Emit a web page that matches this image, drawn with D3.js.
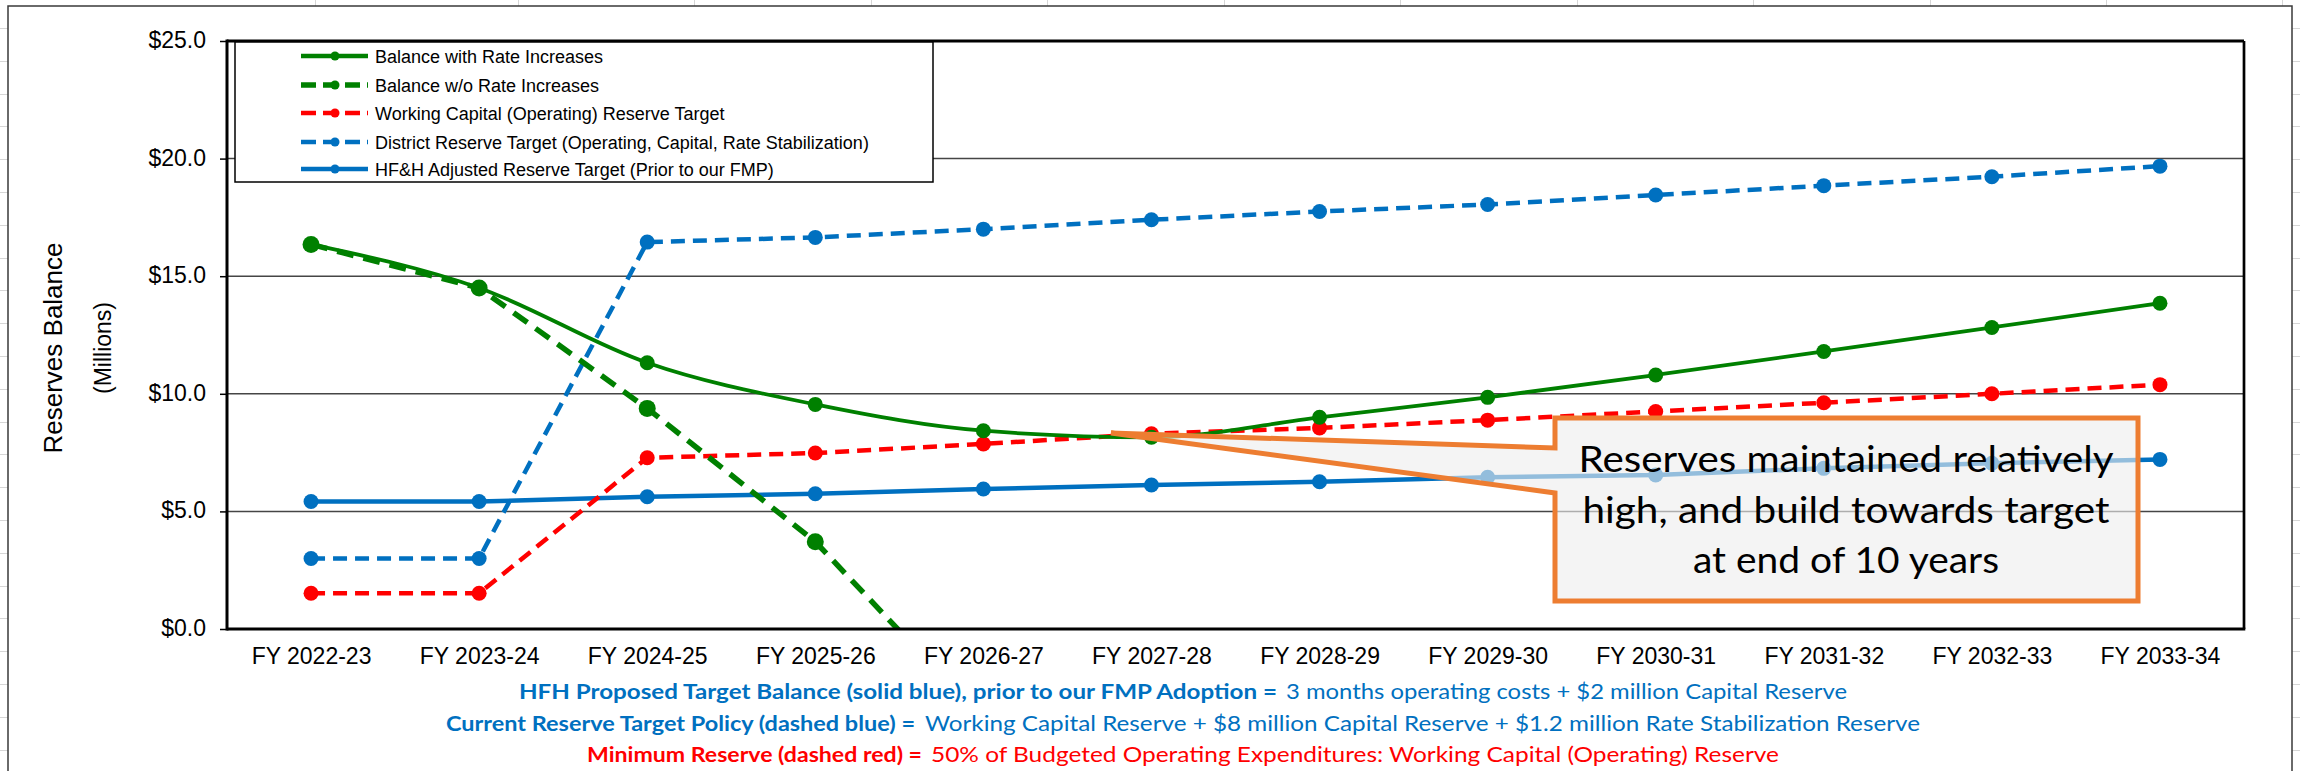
<!DOCTYPE html>
<html>
<head>
<meta charset="utf-8">
<script src="https://cdn.jsdelivr.net/npm/d3@7"></script>
<style>
  html, body { margin: 0; padding: 0; background: #ffffff; }
  svg { display: block; }
</style>
</head>
<body>
<svg id="chart" width="2300" height="771"></svg>
<script>
// ---------------- DATA ----------------
const years = ["FY 2022-23","FY 2023-24","FY 2024-25","FY 2025-26","FY 2026-27","FY 2027-28",
               "FY 2028-29","FY 2029-30","FY 2030-31","FY 2031-32","FY 2032-33","FY 2033-34"];
const balanceWithRates    = [16.35, 14.5, 11.32, 9.55, 8.43, 8.15, 9.0, 9.85, 10.8, 11.8, 12.82, 13.85];
const balanceWithoutRates = [16.35, 14.5, 9.38, 3.71, -3.86, null, null, null, null, null, null, null];
const workingCapitalTarget = [1.52, 1.52, 7.28, 7.48, 7.87, 8.3, 8.55, 8.88, 9.25, 9.62, 10.0, 10.39];
const districtReserveTarget = [3.0, 3.0, 16.45, 16.65, 17.0, 17.4, 17.75, 18.05, 18.45, 18.85, 19.23, 19.68];
const hfhAdjustedTarget   = [5.42, 5.42, 5.62, 5.75, 5.95, 6.12, 6.26, 6.45, 6.55, 6.83, 7.05, 7.21];
const yTicks = [0, 5, 10, 15, 20, 25];
const legendLabels = ["Balance with Rate Increases","Balance w/o Rate Increases",
  "Working Capital (Operating) Reserve Target",
  "District Reserve Target (Operating, Capital, Rate Stabilization)",
  "HF&H Adjusted Reserve Target (Prior to our FMP)"];
const yTitle = "Reserves Balance";
const ySubTitle = "(Millions)";
const calloutLines = ["Reserves maintained relatively","high, and build towards target","at end of 10 years"];
const noteBold = ["HFH Proposed Target Balance (solid blue), prior to our FMP Adoption =",
                  "Current Reserve Target Policy (dashed blue) =",
                  "Minimum Reserve (dashed red) ="];
const noteNormal = ["3 months operating costs + $2 million Capital Reserve",
                    "Working Capital Reserve + $8 million Capital Reserve + $1.2 million Rate Stabilization Reserve",
                    "50% of Budgeted Operating Expenditures: Working Capital (Operating) Reserve"];

// ---------------- SETUP ----------------
const svg = d3.select("#chart");
const W = 2300, H = 771;
const PL = 227, PR = 2244, PT = 41, PB = 629;
const ARIAL = "'Liberation Sans', Arial, sans-serif";
const CAL = "Lato, 'Open Sans', sans-serif";
const GREEN = "#008000", RED = "#FF0000", BLUE = "#0070C0", ORANGE = "#ED7D31";

const x = d3.scalePoint().domain(years).range([PL, PR]).padding(0.5);
const y = d3.scaleLinear().domain([0, 25]).range([PB, PT]);

// Background spreadsheet cell grid (peeking around the chart frame)
const bg = svg.append("g").attr("stroke", "#d6d6d6").attr("stroke-width", 1);
[315, 518, 694, 871, 1047, 1224, 1400, 1577, 1753, 1930, 2106, 2282].forEach(cx => {
  bg.append("line").attr("x1", cx + 0.5).attr("x2", cx + 0.5).attr("y1", 0).attr("y2", 6);
});
for (let ry = 28; ry < H; ry += 32.8) {
  bg.append("line").attr("x1", 0).attr("x2", 8).attr("y1", Math.round(ry) + 0.5).attr("y2", Math.round(ry) + 0.5);
  bg.append("line").attr("x1", 2292).attr("x2", 2300).attr("y1", Math.round(ry) + 0.5).attr("y2", Math.round(ry) + 0.5);
}

// Outer chart frame
svg.append("path")
  .attr("d", `M8,${H + 2} L8,6 L2292,6 L2292,${H + 2}`)
  .attr("fill", "#ffffff").attr("stroke", "#3a3a3a").attr("stroke-width", 1.5);

// Gridlines
svg.append("g").selectAll("line").data(yTicks.filter(t => t > 0 && t < 25)).join("line")
  .attr("x1", PL).attr("x2", PR)
  .attr("y1", d => y(d)).attr("y2", d => y(d))
  .attr("stroke", "#454545").attr("stroke-width", 1.5);

// Y axis
const yAxis = svg.append("g").attr("transform", `translate(${PL},0)`)
  .call(d3.axisLeft(y).tickValues(yTicks).tickSize(7).tickPadding(14)
        .tickFormat(d => "$" + d.toFixed(1)));
yAxis.select(".domain").remove();
yAxis.selectAll(".tick line").attr("stroke", "#000").attr("stroke-width", 1.5);
yAxis.selectAll("text").attr("font-family", ARIAL).attr("font-size", 23).attr("fill", "#000")
  .attr("dy", "0.28em");

// X axis
const xAxis = svg.append("g").attr("transform", `translate(0,${PB})`)
  .call(d3.axisBottom(x).tickSize(0).tickPadding(19));
xAxis.select(".domain").remove();
xAxis.selectAll("text").attr("font-family", ARIAL).attr("font-size", 23).attr("fill", "#000");

// Axis titles
svg.append("text").attr("transform", `translate(62,348) rotate(-90)`)
  .attr("text-anchor", "middle").attr("font-family", ARIAL).attr("font-size", 26).attr("fill", "#000")
  .text(yTitle);
svg.append("text").attr("transform", `translate(111,348) rotate(-90)`)
  .attr("text-anchor", "middle").attr("font-family", ARIAL).attr("font-size", 23).attr("fill", "#000")
  .text(ySubTitle);

// Clip for the plot area
svg.append("defs").append("clipPath").attr("id", "plotclip")
  .append("rect").attr("x", PL).attr("y", PT).attr("width", PR - PL).attr("height", PB - PT);

const series = [
  { name: legendLabels[4], values: hfhAdjustedTarget, color: BLUE, width: 4.5, dash: null, curve: d3.curveLinear, r: 7.5 },
  { name: legendLabels[3], values: districtReserveTarget, color: BLUE, width: 4.5, dash: "14,8", curve: d3.curveLinear, r: 7.5 },
  { name: legendLabels[2], values: workingCapitalTarget, color: RED, width: 4.5, dash: "14,8", curve: d3.curveLinear, r: 7.5 },
  { name: legendLabels[1], values: balanceWithoutRates, color: GREEN, width: 5.5, dash: "17,10", curve: d3.curveLinear, r: 8.5 },
  { name: legendLabels[0], values: balanceWithRates, color: GREEN, width: 3.8, dash: null, curve: d3.curveMonotoneX, r: 7.5 }
];

const plotG = svg.append("g").attr("clip-path", "url(#plotclip)");
series.forEach(s => {
  const pts = years.map((yr, i) => ({ yr, v: s.values[i] })).filter(p => p.v !== null);
  const line = d3.line().x(p => x(p.yr)).y(p => y(p.v)).curve(s.curve);
  plotG.append("path").datum(pts).attr("d", line)
    .attr("fill", "none").attr("stroke", s.color).attr("stroke-width", s.width)
    .attr("stroke-dasharray", s.dash).attr("stroke-linejoin", "round");
  plotG.append("g").selectAll("circle").data(pts).join("circle")
    .attr("cx", p => x(p.yr)).attr("cy", p => y(p.v)).attr("r", s.r)
    .attr("fill", s.color);
});

// Plot border / axes lines
svg.append("line").attr("x1", PL).attr("x2", PR).attr("y1", PT).attr("y2", PT).attr("stroke", "#000").attr("stroke-width", 3);
svg.append("line").attr("x1", PR).attr("x2", PR).attr("y1", PT).attr("y2", PB).attr("stroke", "#000").attr("stroke-width", 2.7);
svg.append("line").attr("x1", PL).attr("x2", PL).attr("y1", PT - 1.5).attr("y2", PB + 1.5).attr("stroke", "#000").attr("stroke-width", 3);
svg.append("line").attr("x1", PL).attr("x2", PR + 1.3).attr("y1", PB).attr("y2", PB).attr("stroke", "#000").attr("stroke-width", 3.2);

// Legend
const lg = svg.append("g");
lg.append("rect").attr("x", 235).attr("y", 42).attr("width", 698).attr("height", 140)
  .attr("fill", "#fff").attr("stroke", "#000").attr("stroke-width", 1.5);
const legendOrder = [4, 3, 2, 1, 0]; // index into series array (legend top to bottom)
const legendY = [56, 85, 113, 142, 169];
legendOrder.forEach((si, k) => {
  const s = series[si];
  const cy = legendY[k];
  lg.append("line").attr("x1", 301).attr("x2", 368).attr("y1", cy).attr("y2", cy)
    .attr("stroke", s.color).attr("stroke-width", Math.max(s.width, 4.5))
    .attr("stroke-dasharray", s.dash ? "15,7" : null);
  lg.append("circle").attr("cx", 335).attr("cy", cy).attr("r", 4.5).attr("fill", s.color);
  lg.append("text").attr("x", 375).attr("y", cy + 6.5)
    .attr("font-family", ARIAL).attr("font-size", 18).attr("fill", "#000").text(s.name);
});

// Callout
const callout = svg.append("g");
callout.append("path")
  .attr("d", "M1111,433 L1555,448 L1555,418 L2138,418 L2138,601 L1555,601 L1555,493 Z")
  .attr("fill", "#EDEDED").attr("fill-opacity", 0.62)
  .attr("stroke", ORANGE).attr("stroke-width", 5).attr("stroke-linejoin", "miter");
const calloutBase = [472, 523, 573];
const calloutWidth = [535, 527, 306];
calloutLines.forEach((t, i) => {
  callout.append("text").attr("x", 1846 - calloutWidth[i] / 2).attr("y", calloutBase[i])
    .attr("font-family", CAL).attr("font-size", 37).attr("fill", "#000")
    .attr("textLength", calloutWidth[i]).attr("lengthAdjust", "spacingAndGlyphs")
    .text(t);
});

// Notes beneath the chart
const noteColors = [BLUE, BLUE, RED];
const noteBase = [699, 731, 762];
const boldX = [519, 446, 587], boldW = [758, 469, 335];
const normX = [1286, 925, 931], normW = [561, 995, 848];
noteBold.forEach((t, i) => {
  svg.append("text").attr("x", boldX[i]).attr("y", noteBase[i])
    .attr("font-family", CAL).attr("font-size", 21).attr("font-weight", "bold").attr("fill", noteColors[i])
    .attr("textLength", boldW[i]).attr("lengthAdjust", "spacingAndGlyphs").text(t);
  svg.append("text").attr("x", normX[i]).attr("y", noteBase[i])
    .attr("font-family", CAL).attr("font-size", 21).attr("fill", noteColors[i])
    .attr("textLength", normW[i]).attr("lengthAdjust", "spacingAndGlyphs").text(noteNormal[i]);
});
</script>
</body>
</html>
